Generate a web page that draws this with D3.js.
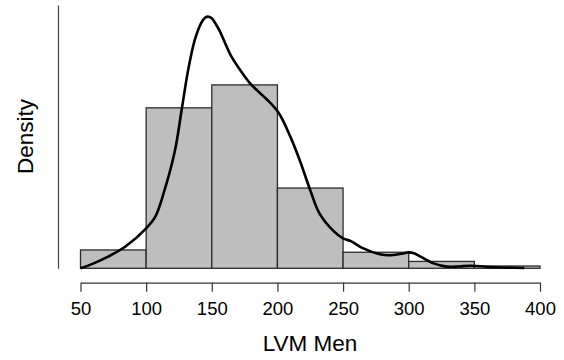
<!DOCTYPE html>
<html>
<head>
<meta charset="utf-8">
<script src="https://cdn.jsdelivr.net/npm/d3@7"></script>
<style>
  body { margin: 0; background: #fff; }
  svg text { font-family: "Liberation Sans", Arial, sans-serif; fill: #000; }
</style>
</head>
<body>
<div id="chart"></div>
<script>
// histogram bins (LVM, men) and counts
var binStart = [50, 100, 150, 200, 250, 300, 350];
var binWidth = 50;
var binCount = [8, 70, 80, 35, 7, 3, 1];

// kernel density curve (x, density)
var curveX = [50, 60, 71, 84, 100, 107, 114, 122, 127, 132, 137, 142, 145, 147.5, 150, 153, 156, 159, 165, 172, 179, 186, 192, 201, 210, 217, 225, 232, 243, 250, 256, 265, 278, 286, 294, 300, 304, 309, 319, 329, 338, 347, 355, 360, 375, 388];
var curveY = [0, 0.00021, 0.0005, 0.00092, 0.00171, 0.00221, 0.00334, 0.00505, 0.00676, 0.00848, 0.00976, 0.0105, 0.01072, 0.01076, 0.01069, 0.01045, 0.01015, 0.00978, 0.00905, 0.00845, 0.00792, 0.00753, 0.00722, 0.00664, 0.00561, 0.00462, 0.00334, 0.00235, 0.00158, 0.00128, 0.00116, 0.00086, 0.0006, 0.00056, 0.00062, 0.00068, 0.00064, 0.0005, 0.00021, 0.00007, 0.00008, 0.00011, 0.00009, 0.00006, 0.00003, 0.00001];

var xTicks = [50, 100, 150, 200, 250, 300, 350, 400];
var yTop = 0.01126;

var w = 564, h = 360;
var n = d3.sum(binCount);

var svg = d3.select('#chart')
	.append('svg')
	.attr('width', w)
	.attr('height', h);

var x = d3.scaleLinear().domain([50, 400]).range([80.5, 540]);
var y = d3.scaleLinear().domain([0, yTop]).range([268.3, 5]);

// bars
svg.selectAll('rect.bar')
	.data(binStart)
	.enter()
	.append('rect')
	.attr('class', 'bar')
	.attr('x', function(d){ return x(d); })
	.attr('width', function(d){ return x(d + binWidth) - x(d); })
	.attr('y', function(d, i){ return y(binCount[i] / (n * binWidth)); })
	.attr('height', function(d, i){ return y(0) - y(binCount[i] / (n * binWidth)); })
	.style('fill', '#bebebe')
	.style('stroke', '#2b2b2b')
	.style('stroke-width', 1.3);

// density line
var pts = curveX.map(function(d, i){ return [d, curveY[i]]; });
var line = d3.line()
	.x(function(d){ return x(d[0]); })
	.y(function(d){ return y(d[1]); })
	.curve(d3.curveCatmullRom.alpha(0.5));

svg.append('path')
	.datum(pts)
	.attr('d', line)
	.style('fill', 'none')
	.style('stroke', '#000')
	.style('stroke-width', 2.6)
	.style('stroke-linejoin', 'round');

// x axis
var xAxis = svg.append('g')
	.attr('transform', 'translate(0,282.7)')
	.call(d3.axisBottom(x).tickValues(xTicks).tickSize(9).tickSizeOuter(0).tickPadding(10));
xAxis.selectAll('path, line').style('stroke', '#333').style('stroke-width', 1.2);
xAxis.selectAll('text').style('font-size', '18.5px').style('font-family', '"Liberation Sans", Arial, sans-serif');

// y axis, no ticks
var yAxis = svg.append('g')
	.attr('transform', 'translate(58,0)')
	.call(d3.axisLeft(y).tickValues([]).tickSizeOuter(0));
yAxis.select('path').style('stroke', '#444').style('stroke-width', 1.2);

// titles
svg.append('text')
	.attr('x', 310)
	.attr('y', 350.5)
	.attr('text-anchor', 'middle')
	.style('font-size', '22.5px')
	.text('LVM Men');

svg.append('text')
	.attr('transform', 'translate(33,136.5) rotate(-90)')
	.attr('text-anchor', 'middle')
	.style('font-size', '22.5px')
	.text('Density');
</script>
</body>
</html>
